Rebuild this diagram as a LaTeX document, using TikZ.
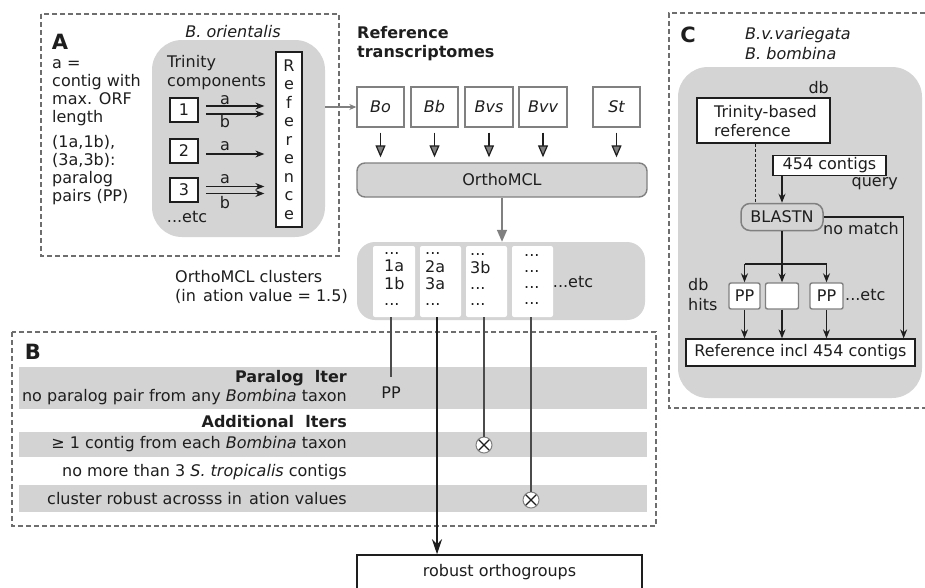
\documentclass[tikz,border=0pt]{standalone}
\usepackage{fontspec}
\setmainfont{DejaVu Sans}
\usetikzlibrary{arrows.meta}
\definecolor{bggray}{RGB}{212,212,212}
\definecolor{rowgray}{RGB}{211,211,211}
\definecolor{midgray}{RGB}{128,128,128}
\definecolor{dashgray}{RGB}{110,110,110}
\definecolor{ink}{RGB}{30,30,30}
\definecolor{linegray}{RGB}{75,75,75}
\newcommand\myfs{\fontsize{16}{19}\selectfont}
\newcommand\myfsA{\fontsize{16}{16.5}\selectfont}
\newcommand\myfsB{\fontsize{16}{17}\selectfont}
\newcommand\myfsC{\fontsize{16}{16}\selectfont}
\newcommand\myfsD{\fontsize{16}{20}\selectfont}
\newcommand\myfsR{\fontsize{16}{18.5}\selectfont}
\newcommand\myfsL{\fontsize{21}{24}\selectfont\bfseries}
\begin{document}
\begin{tikzpicture}[x=1pt,y=-1pt,
  every node/.style={inner sep=0pt, text=ink, font=\myfs},
  dashedbox/.style={draw=dashgray, line width=1.4pt, dash pattern=on 5pt off 3pt},
  lbl/.style={font=\myfsL},
  blackbox/.style={draw=ink, line width=1.3pt, fill=white},
  graybox/.style={draw=midgray, line width=1.4pt, fill=white},
  tbox/.style={graybox, minimum height=40pt, font=\myfs\itshape},
  ppbox/.style={graybox, rounded corners=2pt, minimum height=26pt},
  blk/.style={draw=ink, line width=1.1pt, -{Stealth[length=9pt,width=7pt]}},
  bigblk/.style={draw=ink, line width=1.4pt, -{Stealth[length=15pt,width=10pt,inset=5pt]}},
  tri/.style={draw=ink, line width=1.2pt, -{Triangle[length=12pt,width=10pt,fill=midgray]}},
  grayarr/.style={draw=midgray, line width=1.3pt, -{Stealth[length=7pt,width=6pt]}},
  grayarr2/.style={draw=midgray, line width=1.5pt, -{Triangle[length=12pt,width=10pt]}},
  fline/.style={draw=linegray, line width=1.3pt},
  xcirc/.style={circle, draw=midgray, fill=white, line width=1pt, minimum size=16pt}
]
\useasboundingbox (0,0) rectangle (925,587);
\fill[white] (0,0) rectangle (925,587);

% ---------------- Panel A ----------------
\draw[dashedbox] (41,14) rectangle (339,256);
\node[lbl] (labA) at (60,42) {A};
\node[anchor=west, align=left, font=\myfsA] (defa) at (52,92.6) {\strut a =\\\strut contig with\\\strut max. ORF\\\strut length};
\node[anchor=west, align=left, font=\myfsA] (defpp) at (52,171) {\strut (1a,1b),\\\strut (3a,3b):\\\strut paralog\\\strut pairs (PP)};
\node[font=\myfs\itshape] (bori) at (233,32) {B. orientalis};
\node[fill=bggray, rounded corners=30pt, minimum width=173pt, minimum height=197pt] (regA) at (238.5,138.5) {};
\node[anchor=west, align=left] (trin) at (167,73.5) {\strut Trinity\\\strut components};
\node[blackbox, minimum width=26pt, minimum height=175pt, align=center, font=\myfsR] (refA) at (289,139.5) {R\\e\\f\\e\\r\\e\\n\\c\\e};
\node[blackbox, line width=1.5pt, minimum width=28pt, minimum height=24pt] (c1) at (184,110) {1};
\node[blackbox, line width=1.5pt, minimum width=28pt, minimum height=24pt] (c2) at (184,151) {2};
\node[blackbox, line width=1.5pt, minimum width=28pt, minimum height=24pt] (c3) at (184,190) {3};
\draw[blk, shorten <=7pt, shorten >=11pt] ([yshift=4pt]c1.east) -- ([yshift=4pt]c1.east -| refA.west);
\draw[blk, shorten <=7pt, shorten >=11pt] ([yshift=-4pt]c1.east) -- ([yshift=-4pt]c1.east -| refA.west);
\draw[blk, shorten <=7pt, shorten >=11pt] ([yshift=-3pt]c2.east) -- ([yshift=-3pt]c2.east -| refA.west);
\draw[blk, shorten <=7pt, shorten >=11pt] ([yshift=3.5pt]c3.east) -- ([yshift=3.5pt]c3.east -| refA.west);
\draw[blk, shorten <=7pt, shorten >=11pt] ([yshift=-3.5pt]c3.east) -- ([yshift=-3.5pt]c3.east -| refA.west);
\node (la1) at (225,100) {a};
\node (lb1) at (225,122) {b};
\node (la2) at (225,146) {a};
\node (la3) at (225,179) {a};
\node (lb3) at (225,203) {b};
\node (etcA) at (187,217) {...etc};

% ---------------- Reference transcriptomes ----------------
\node[anchor=west, align=left, font=\myfs\bfseries] (rtx) at (357,44.5) {\strut Reference\\\strut transcriptomes};
\node[tbox, minimum width=47pt] (bo) at (380.5,107) {Bo};
\node[tbox, minimum width=47pt] (bb) at (434.5,107) {Bb};
\node[tbox, minimum width=48pt] (bvs) at (489,107) {Bvs};
\node[tbox, minimum width=48pt] (bvv) at (543,107) {Bvv};
\node[tbox, minimum width=47pt] (st) at (616.5,107) {St};
\draw[grayarr] (regA.east |- bo.west) -- (bo.west);
\node[draw=midgray, line width=1.4pt, fill=bggray, rounded corners=8pt, minimum width=290pt, minimum height=34pt] (omcl) at (502,180) {OrthoMCL};
\foreach \t in {bo,bb,bvs,bvv,st}{
  \draw[tri, shorten <=5pt, shorten >=5pt] (\t.south) -- (\t.south |- omcl.north);
}

% ---------------- Clusters ----------------
\node[fill=bggray, rounded corners=18pt, minimum width=288pt, minimum height=78pt] (clus) at (501,281) {};
\draw[grayarr2] (omcl.south) -- (omcl.south |- clus.north);
\node[fill=white, rounded corners=2pt, minimum width=42pt, minimum height=71pt] (k1) at (394,281.5) {};
\node[fill=white, rounded corners=2pt, minimum width=41pt, minimum height=71pt] (k2) at (440.5,281.5) {};
\node[fill=white, rounded corners=2pt, minimum width=41pt, minimum height=71pt] (k3) at (486.5,281.5) {};
\node[fill=white, rounded corners=2pt, minimum width=41pt, minimum height=71pt] (k4) at (532.5,281.5) {};
\node[anchor=west, align=left, font=\myfsC] (t1) at (384,277) {\strut ...\\\strut 1a\\\strut 1b\\\strut ...};
\node[anchor=west, align=left, font=\myfsC] (t2) at (425,277) {\strut ...\\\strut 2a\\\strut 3a\\\strut ...};
\node[anchor=west, align=left, font=\myfsC] (t3) at (470,277) {\strut ...\\\strut 3b\\\strut ...\\\strut ...};
\node[anchor=west, align=left, font=\myfsC] (t4) at (524,277) {\strut ...\\\strut ...\\\strut ...\\\strut ...};
\node (etcK) at (573,282) {...etc};
\node[anchor=west, align=left, font=\myfsB] (ocl) at (175,288.5) {\strut OrthoMCL clusters\\\strut (in\hspace{0.45em}ation value = 1.5)};

% ---------------- Panel B ----------------
\draw[dashedbox] (12,332) rectangle (656,526);
\node[lbl] (labB) at (33,352) {B};
\node[fill=rowgray, minimum width=628pt, minimum height=42pt] (row1) at (333,388) {};
\node[fill=rowgray, minimum width=628pt, minimum height=25pt] (row2) at (333,444.5) {};
\node[fill=rowgray, minimum width=628pt, minimum height=27pt] (row4) at (333,498.5) {};
\node[anchor=east, font=\myfs\bfseries] (pf) at (347,378) {Paralog\hspace{0.7em}lter};
\node[anchor=east] (pf2) at (347,397) {no paralog pair from any \textit{Bombina} taxon};
\node[anchor=east, font=\myfs\bfseries] (af) at (347,422) {Additional\hspace{0.7em}lters};
\node[anchor=east] (af1) at (347,444) {≥ 1 contig from each \textit{Bombina} taxon};
\node[anchor=east] (af2) at (347,472) {no more than 3 \textit{S. tropicalis} contigs};
\node[anchor=east] (af3) at (347,499) {cluster robust acrosss in\hspace{0.45em}ation values};
\node (pp) at (391,393) {PP};
\node[xcirc] (x1) at (484,445) {};
\node[xcirc] (x2) at (531,500) {};
\foreach \c in {x1,x2}{
  \draw[ink, line width=1.1pt, shorten <=1pt, shorten >=1pt] (\c.north west) -- (\c.south east);
  \draw[ink, line width=1.1pt, shorten <=1pt, shorten >=1pt] (\c.north east) -- (\c.south west);
}
\draw[fline, shorten >=10pt] (k1.south -| pp.north) -- (pp.north);
\draw[fline] (k3.south -| x1.north) -- (x1.north);
\draw[fline] (k4.south -| x2.north) -- (x2.north);
\node[draw=ink, line width=1.5pt, minimum width=285pt, minimum height=34pt] (robust) at (499.5,572) {robust orthogroups};
\draw[bigblk] ([xshift=-3.5pt]k2.south) -- ([xshift=-3.5pt]k2.south |- robust.north);

% ---------------- Panel C ----------------
\draw[dashedbox] (925,13) -- (669,13) -- (669,408) -- (925,408);
\node[lbl] (labC) at (688,35) {C};
\node[anchor=west, align=left, font=\myfsD\itshape] (bvar) at (745,45.4) {\strut B.v.variegata\\\strut B. bombina};
\node[fill=bggray, rounded corners=30pt, minimum width=244pt, minimum height=331pt] (regC) at (800,232.5) {};
\node[anchor=east] (db1) at (829,88) {db};
\node[blackbox, minimum width=133pt, minimum height=45pt] (trb) at (763.5,120.5) {};
\node[anchor=west, align=left] (trbt) at (714,123) {\strut Trinity-based\\\strut reference};
\node[blackbox, minimum width=113pt, minimum height=20pt] (c454) at (829.5,165.5) {454 contigs};
\node[anchor=east] (qry) at (898,184) {query};
\node[draw=midgray, fill=bggray, line width=1.5pt, rounded corners=9pt, minimum width=82pt, minimum height=27pt] (blast) at (782,217) {BLASTN};
\draw[ink, line width=1pt, dash pattern=on 3pt off 2pt] ([xshift=-8.5pt]trb.south) -- ([xshift=-8.5pt]trb.south |- blast.north);
\draw[blk] (blast.north |- c454.south) -- (blast.north);
\node[blackbox, minimum width=229pt, minimum height=27pt] (refinc) at (800.5,352.5) {Reference incl 454 contigs};
\draw[blk] (blast.east) -| ([xshift=-12pt]refinc.north east);
\node (nm) at (861,229) {no match};
\node[ppbox, minimum width=31pt] (pp1) at (744.5,296) {PP};
\node[ppbox, minimum width=33pt] (pp2) at (782,296) {};
\node[ppbox, minimum width=33pt] (pp3) at (826.5,296) {PP};
\coordinate (br) at (782,264);
\draw[ink, line width=1.1pt] (blast.south) -- (br);
\draw[ink, line width=1.1pt] (pp1.north |- br) -- (pp3.north |- br);
\draw[blk] (pp1.north |- br) -- (pp1.north);
\draw[blk] (br) -- (pp2.north);
\draw[blk] (pp3.north |- br) -- (pp3.north);
\node[anchor=west] (etcC) at (845,295) {...etc};
\node[anchor=west, align=left, font=\myfsD] (dbh) at (688,296) {\strut db\\\strut hits};
\draw[blk] (pp1.south) -- (pp1.south |- refinc.north);
\draw[blk] (pp2.south) -- (pp2.south |- refinc.north);
\draw[blk] (pp3.south) -- (pp3.south |- refinc.north);
\end{tikzpicture}
\end{document}
